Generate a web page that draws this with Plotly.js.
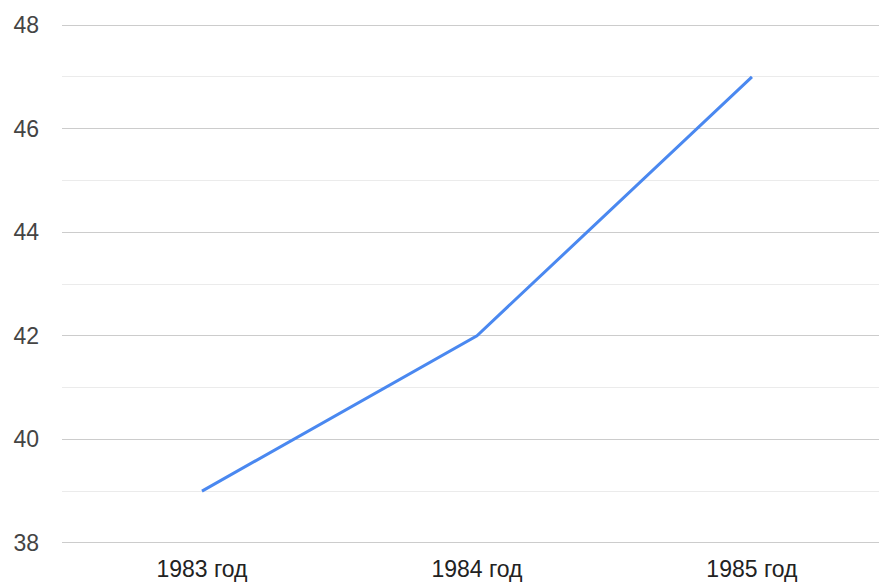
<!DOCTYPE html>
<html><head><meta charset="utf-8">
<script src="https://cdn.plot.ly/plotly-3.0.1.min.js"></script>
<style>html,body{margin:0;padding:0;background:#fff}</style>
</head><body>
<div id="chart" style="width:879px;height:582px"></div>
<script>
const categories = ["1983 год", "1984 год", "1985 год"];
const values = [39, 42, 47];
const yTicks = [38, 40, 42, 44, 46, 48];

Plotly.newPlot('chart', [{
  x: categories, y: values, type: 'scatter', mode: 'lines',
  line: {color: '#4a88f0', width: 3}, hoverinfo: 'skip'
}], {
  width: 879, height: 582,
  margin: {l: 62, r: 0, t: 22, b: 36},
  paper_bgcolor: '#fff', plot_bgcolor: '#fff',
  showlegend: false,
  font: {family: 'Liberation Sans, Arial, sans-serif', size: 23, color: '#444'},
  xaxis: {
    type: 'category', range: [-0.509, 2.462],
    showgrid: false, zeroline: false, showline: false,
    ticks: '', ticklabelstandoff: 7,
    tickfont: {size: 23, color: '#222'}
  },
  yaxis: {
    range: [37.94, 48.06], tickvals: yTicks, ticktext: yTicks.map(String),
    showgrid: true, gridcolor: '#cccccc', gridwidth: 1,
    zeroline: false, showline: false, ticks: '',
    ticklabelstandoff: 22,
    tickfont: {size: 23, color: '#444'},
    minor: {dtick: 1, tick0: 38, showgrid: true, gridcolor: '#ebebeb', gridwidth: 1}
  }
}, {displayModeBar: false, staticPlot: true});
</script>
</body></html>
